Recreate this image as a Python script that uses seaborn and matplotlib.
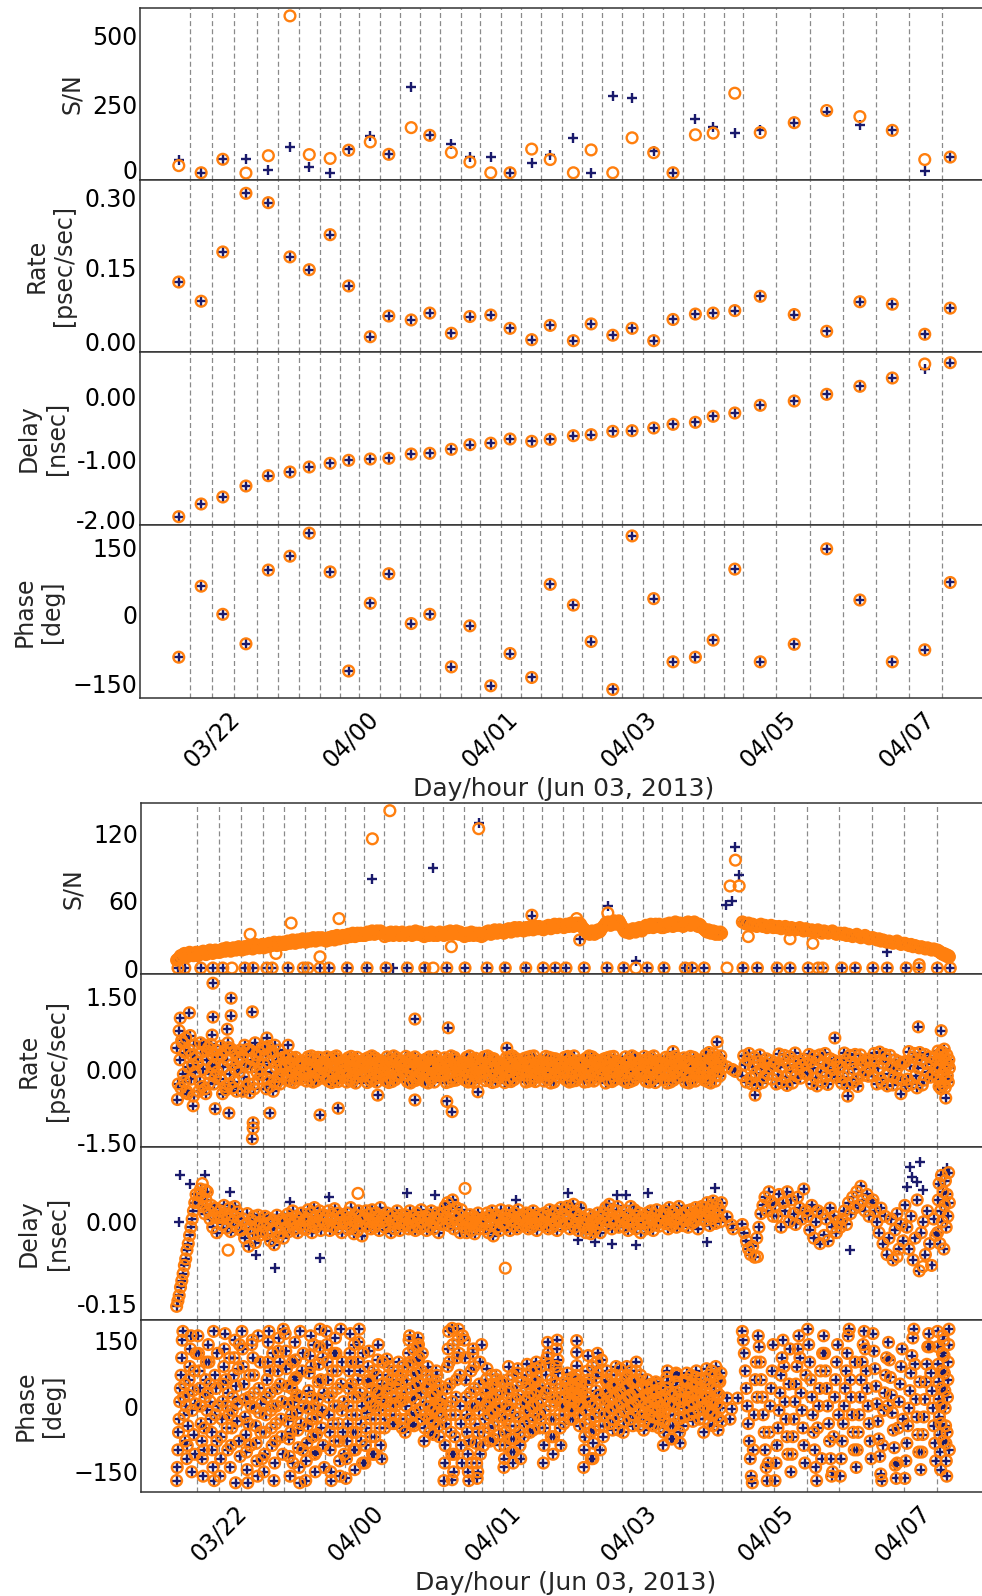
import numpy as np
from itertools import zip_longest
import matplotlib
matplotlib.use("Agg")
import matplotlib.pyplot as plt
from matplotlib.transforms import ScaledTranslation
import seaborn as sns

sns.set_theme(style="white")
plt.rcParams["font.family"] = ["DejaVu Sans"]
plt.rcParams["axes.unicode_minus"] = True

NAVY = "#1a1a6c"
ORANGE = "#ff7f0e"

# ---------------- common ----------------
# scan boundaries (hours since Jun 03 00:00)
SCAN_EDGES = [22.01, 22.30, 22.59, 22.88, 23.16, 23.43, 23.70, 23.96, 24.21, 24.47,
              24.74, 24.99, 25.25, 25.52, 25.77, 26.04, 26.30, 26.56, 26.83, 27.09,
              27.35, 27.61, 27.88, 28.14, 28.40, 28.67, 28.93, 29.18, 29.61, 30.04,
              30.47, 30.90, 31.32, 31.75]
TICK_HOURS = [22.3, 24.1, 25.9, 27.7, 29.5, 31.3]
TICK_LABELS = ["03/22", "04/00", "04/01", "04/03", "04/05", "04/07"]
XLABEL = "Day/hour (Jun 03, 2013)"
YLABELS = ["S/N", "Rate\n[psec/sec]", "Delay\n[nsec]", "Phase\n[deg]"]

# ---------------- top group (scan averaged) ----------------
T_HOURS = [21.87, 22.16, 22.44, 22.74, 23.03, 23.31, 23.56, 23.83, 24.07, 24.35,
           24.59, 24.88, 25.12, 25.40, 25.64, 25.91, 26.16, 26.44, 26.68, 26.98,
           27.21, 27.49, 27.74, 28.02, 28.27, 28.56, 28.79, 29.07, 29.40, 29.84,
           30.26, 30.69, 31.11, 31.53, 31.86]
T_SN_PLUS = [48, 2, 51, 51, 11, 94, 22, 2, 88, 137, 69, 312, 138, 106, 58, 58, 2, 37,
             65, 128, 2, 281, 274, 82, 2, 197, 169, 148, 156, 184, 223, 177, 156, 9, 59]
T_SN_CIRC = [28, 2, 51, 1, 64, 572, 68, 54, 84, 114, 69, 166, 138, 76, 41, 2, 2, 88,
             50, 2, 85, 2, 129, 75, 2, 140, 146, 291, 148, 184, 228, 206, 156, 50, 59]
T_RATE = [0.120, 0.081, 0.181, 0.300, 0.281, 0.171, 0.145, 0.216, 0.112, 0.009,
          0.051, 0.043, 0.057, 0.016, 0.050, 0.053, 0.026, 0.003, 0.032, 0.001,
          0.035, 0.012, 0.026, 0.001, 0.044, 0.055, 0.057, 0.062, 0.091, 0.054,
          0.020, 0.080, 0.075, 0.014, 0.067]
T_DELAY_PLUS = [-1.920, -1.717, -1.605, -1.429, -1.264, -1.205, -1.125, -1.066, -1.018,
                -0.997, -0.986, -0.917, -0.906, -0.842, -0.768, -0.744, -0.677, -0.714,
                -0.682, -0.624, -0.608, -0.554, -0.544, -0.501, -0.442, -0.410, -0.314,
                -0.261, -0.138, -0.069, 0.038, 0.166, 0.299, 0.448, 0.544]
T_DELAY_CIRC = [-1.920, -1.717, -1.605, -1.429, -1.264, -1.205, -1.125, -1.066, -1.018,
                -0.997, -0.986, -0.917, -0.906, -0.842, -0.768, -0.744, -0.677, -0.714,
                -0.682, -0.624, -0.608, -0.554, -0.544, -0.501, -0.442, -0.410, -0.314,
                -0.261, -0.138, -0.069, 0.038, 0.166, 0.299, 0.523, 0.544]
T_PHASE = [-93, 61, 0, -64, 96, 126, 176, 92, -123, 24, 88, -20, 0, -114, -25, -155,
           -85, -137, 65, 20, -59, -163, 170, 34, -103, -93, -56, 98, -103, -65, 142,
           31, -103, -77, 69]

# ---------------- bottom group (per-accumulation) ----------------
B_START, B_END = 21.73, 31.93
# values per scan (35 scans, scan 27 has no regular data)
SN_BANDS = [
    [7, 8, 9, 11, 10, 12, 13, 11, 10, 12, 14, 13, 12, 11, 13, 14],
    [11, 12, 14, 13, 15, 14, 12, 13, 15, 16, 14, 13, 15, 16, 15, 14],
    [14, 15, 17, 16, 15, 18, 17, 16, 15, 17, 18, 17, 16, 18, 19, 17],
    [16, 18, 19, 17, 18, 20, 19, 18, 17, 19, 21, 20, 19, 18, 20, 21],
    [18, 20, 21, 19, 22, 21, 20, 22, 23, 21, 20, 22, 23, 22, 21, 23],
    [21, 22, 24, 23, 22, 24, 25, 23, 22, 24, 25, 24, 23, 25, 26, 24],
    [23, 24, 26, 25, 24, 26, 27, 25, 24, 26, 27, 26, 25, 27, 26, 25],
    [24, 26, 27, 25, 27, 28, 26, 25, 27, 29, 28, 26, 27, 28, 29, 27],
    [27, 28, 30, 29, 28, 30, 31, 29, 28, 30, 31, 30, 29, 31, 30, 29],
    [29, 30, 32, 31, 30, 32, 33, 31, 30, 32, 33, 32, 31, 33, 32, 31],
    [28, 30, 31, 29, 31, 32, 30, 29, 31, 32, 31, 30, 29, 31, 32, 30],
    [29, 30, 31, 30, 32, 31, 29, 30, 32, 33, 31, 30, 31, 32, 30, 29],
    [28, 29, 31, 30, 29, 31, 32, 30, 29, 31, 30, 29, 31, 32, 31, 30],
    [29, 31, 32, 30, 31, 33, 32, 30, 31, 32, 33, 31, 30, 32, 31, 30],
    [28, 29, 31, 30, 29, 30, 32, 31, 29, 30, 31, 30, 29, 31, 30, 28],
    [29, 31, 32, 31, 33, 32, 30, 31, 33, 34, 32, 31, 33, 34, 33, 32],
    [31, 33, 34, 33, 35, 34, 32, 33, 35, 36, 34, 33, 35, 36, 35, 34],
    [33, 34, 36, 35, 34, 36, 37, 35, 34, 36, 37, 36, 35, 37, 36, 35],
    [34, 36, 37, 36, 38, 37, 35, 36, 38, 39, 37, 36, 38, 39, 38, 37],
    [36, 37, 39, 38, 37, 39, 40, 38, 37, 39, 40, 39, 38, 40, 39, 37],
    [35, 34, 33, 31, 32, 30, 31, 33, 32, 30, 31, 33, 34, 32, 33, 35],
    [37, 38, 40, 39, 41, 40, 38, 39, 41, 42, 40, 39, 41, 42, 40, 38],
    [35, 33, 32, 34, 33, 31, 32, 34, 35, 33, 32, 34, 35, 36, 34, 33],
    [35, 36, 38, 37, 36, 38, 39, 37, 36, 38, 39, 38, 37, 39, 38, 36],
    [36, 38, 39, 37, 38, 40, 39, 38, 37, 39, 41, 40, 38, 39, 40, 39],
    [37, 38, 40, 39, 41, 40, 38, 39, 40, 41, 39, 38, 37, 39, 38, 36],
    [35, 34, 33, 32, 34, 33, 31, 32, 33, 31, 30, 32, 31, 30, 32, 31],
    [],
    [41, 40, 39, 40, 38, 39, 38, 37, 38, 39, 37, 38, 36, 37, 38, 36],
    [37, 36, 37, 35, 36, 37, 35, 34, 36, 35, 34, 35, 36, 34, 33, 35],
    [34, 33, 34, 32, 33, 34, 32, 31, 33, 32, 31, 32, 33, 31, 30, 31],
    [31, 30, 31, 29, 30, 29, 28, 29, 30, 28, 27, 28, 29, 27, 26, 27],
    [27, 26, 25, 26, 24, 25, 24, 23, 24, 23, 22, 23, 24, 22, 21, 22],
    [22, 21, 20, 21, 19, 20, 19, 18, 19, 18, 17, 18, 17, 16, 17, 16],
    [16, 15, 15, 14, 14, 13, 13, 12, 13, 12, 11, 12, 11, 10, 11, 10],
]
# rate in units of 0.01 psec/sec
RATE_BANDS = [
    [45, -30, 20, 60, -10, 35, -45, 5, 70, -20, 30, 10, -55, 50, -5, 25],
    [15, -25, 35, 0, -40, 20, 45, -10, 5, 30, -30, 10, -15, 40, -5, 25],
    [-20, 30, 5, -35, 20, 45, -10, 10, -25, 35, 0, -45, 15, 25, -5, 40],
    [25, -15, 10, 40, -30, 5, 20, -40, 30, -5, 15, -20, 35, 0, -10, 45],
    [10, 30, -20, 15, -5, 35, -25, 5, 20, -15, 40, -30, 10, 0, -10, 25],
    [5, -12, 15, -5, 10, 22, -18, 0, 12, -8, 6, -20, 18, -3, 10, -10],
    [-10, 12, 0, 20, -15, 6, -3, 15, -12, 9, -6, 24, 3, -18, 14, 0],
    [8, -15, 18, -5, 12, -10, 2, 22, -8, 14, -18, 5, 10, -3, 16, -12],
    [-3, 14, -12, 6, 20, -9, 3, -16, 11, 0, 17, -6, 9, -14, 5, 12],
    [10, -6, 16, -14, 3, 20, -9, 8, -3, 13, -16, 6, 18, -11, 0, 14],
    [-8, 12, 3, -16, 16, -5, 8, 18, -13, 1, 13, -10, 5, 17, -3, 10],
    [13, -12, 6, 18, -6, 0, 14, -16, 10, -3, 20, -13, 3, 12, -8, 16],
    [0, 16, -10, 8, -16, 13, 3, -6, 18, -13, 10, 1, -12, 15, 6, -5],
    [-12, 6, 16, -3, 12, -16, 5, 20, -8, 10, 0, -14, 14, 3, -10, 13],
    [14, -5, 10, -13, 3, 18, -10, 6, -16, 12, 0, 16, -6, 8, -14, 5],
    [-6, 12, 0, 16, -13, 8, -3, 18, -10, 3, 14, -16, 10, -5, 13, 1],
    [5, -10, 16, -3, 12, -14, 8, 0, 18, -8, 13, -12, 3, 15, -5, 10],
    [-3, 13, -12, 6, 16, -6, 10, -14, 3, 14, -10, 8, 0, 17, -13, 5],
    [10, -8, 14, 0, -13, 12, 5, -10, 16, -3, 8, -16, 13, 2, -6, 15],
    [-5, 10, 16, -12, 3, 14, -8, 6, -14, 13, 0, 18, -10, 8, -3, 12],
    [13, -3, 6, -13, 16, 0, -10, 10, 3, -16, 14, -6, 8, 18, -12, 1],
    [-10, 14, 3, 12, -6, 18, -13, 0, 10, -3, 16, -14, 6, 13, -8, 4],
    [6, -13, 13, -5, 16, 3, -10, 12, -16, 8, 0, 14, -6, 10, -12, 18],
    [-6, 10, -14, 16, 3, -8, 13, 0, -12, 18, 6, -3, 14, -10, 8, 12],
    [12, -3, 8, -13, 14, 5, -10, 16, -5, 10, -16, 3, 18, -8, 13, 0],
    [0, 16, -10, 8, -14, 13, 3, -6, 18, -12, 10, -3, 14, 5, -16, 20],
    [-8, 13, 5, -16, 10, 20, -5, 14, -12, 6, 24, -3, 16, -13, 28, 12],
    [],
    [-13, 10, 20, -18, 6, -8, 16, 0, -16, 13, 22, -10, 3, 18, -20, 8],
    [14, -12, 5, 20, -16, 10, -5, 18, -13, 3, 16, -18, 8, 21, -8, 12],
    [-10, 16, 3, -18, 20, -5, 12, -14, 8, 22, -12, 0, 18, -16, 13, 5],
    [6, -16, 20, -8, 14, 0, -20, 22, 10, -12, 16, -5, 21, -14, 3, 18],
    [-13, 18, 3, -20, 13, 22, -10, 6, -16, 20, 0, -18, 16, 10, -22, 14],
    [16, -20, 8, 25, -13, 3, 20, -22, 12, -6, 26, -16, 14, -10, 22, 0],
    [-16, 22, 6, -25, 18, -8, 26, 0, -20, 14, 30, -13, 10, -26, 20, 3],
]
# further rate accumulations per scan (interleaved with the ones above)
RATE_BANDS_2 = [
    [-62, 80, -38, 55, -25, 65, -50, 40],
    [-45, 55, -35, 50, -50, 38, -28, 52],
    [48, -50, 38, -42, 55, -30, 42, -38],
    [-45, 50, -35, 42, -48, 38, -30, 55],
    [42, -40, 48, -35, 38, -45, 50, -28],
    [24, -22, 27, -25, 20, -27, 25, -20],
    [-24, 26, -21, 28, -26, 22, -23, 25],
    [26, -24, 21, -27, 25, -22, 28, -25],
    [-26, 24, -22, 27, -24, 21, -28, 25],
    [22, -27, 25, -23, 28, -21, 24, -26],
    [-23, 26, -27, 22, -25, 28, -21, 24],
    [27, -25, 23, -28, 21, -24, 26, -22],
    [-25, 22, -28, 26, -21, 24, -26, 27],
    [24, -27, 21, -25, 28, -23, 25, -22],
    [-22, 25, -26, 28, -24, 21, -27, 23],
    [26, -23, 28, -21, 24, -27, 22, -25],
    [-27, 24, -22, 26, -25, 28, -21, 23],
    [23, -26, 25, -24, 27, -22, 28, -25],
    [-24, 27, -21, 25, -28, 23, -26, 22],
    [25, -22, 27, -26, 21, -24, 28, -23],
    [-26, 23, -25, 28, -22, 26, -24, 21],
    [22, -28, 24, -23, 26, -25, 27, -21],
    [-23, 26, -27, 21, -25, 28, -22, 24],
    [27, -24, 22, -26, 25, -21, 28, -27],
    [-21, 25, -28, 23, -26, 24, -22, 27],
    [24, -26, 21, -28, 27, -23, 25, -24],
    [-22, 30, -25, 35, -28, 26, 32, -24],
    [],
    [28, -26, 33, -30, 25, -32, 30, -27],
    [-30, 32, -27, 29, -33, 26, -28, 34],
    [31, -29, 27, -34, 30, -26, 33, -31],
    [-28, 34, -32, 29, -27, 31, -35, 30],
    [33, -30, 36, -28, 31, -34, 29, -32],
    [-34, 37, -30, 33, -38, 35, -32, 31],
    [38, -35, 33, -40, 36, -32, 42, -37],
]
# delay in units of 0.001 nsec
DELAY_BANDS = [
    [-155, -145, -135, -120, -108, -95, -80, -68, -52, -40, -25, -10, 5, 20, 35, 50],
    [35, 50, 60, 45, 28, 15, 40, 55, 20, 5, 30, -10, 12, 25, -20, 8],
    [20, 8, -5, 30, 15, -12, 5, 25, -18, 12, 0, 28, -8, 18, 6, -15],
    [-15, 5, -30, -5, 15, -45, -12, 3, -22, 10, -38, -8, 12, -25, 0, -18],
    [-8, 10, -22, -3, 6, -35, -15, 3, -42, -12, 12, -28, 0, -20, 5, -30],
    [3, -10, 14, -18, 6, -4, 20, -14, 0, 10, -20, 5, -7, 16, -12, 2],
    [-14, 6, 22, -7, 16, -20, 0, 26, -10, 10, -3, 20, -16, 3, 13, -5],
    [10, -7, 20, -16, 3, 13, -10, 24, 0, -13, 16, -3, 6, -20, 12, 1],
    [-3, 16, -14, 6, 26, -10, 3, -22, 13, 0, -16, 20, -7, 10, -26, 5],
    [6, 20, -7, 13, 0, -13, 22, 3, -10, 16, -3, 10, -16, 26, 0, 8],
    [-10, 3, 16, -7, 10, -20, 0, 13, -13, 6, 20, -3, -16, 12, 3, -8],
    [13, -3, 6, -13, 20, 0, -10, 10, 3, -16, 16, -7, 8, -12, 22, 1],
    [-7, 10, -16, 3, 13, -10, 20, 0, -13, 6, -3, 16, -20, 5, 12, -5],
    [16, 28, 6, 35, -7, 20, 0, 40, -13, 10, 26, -3, 13, -20, 22, 3],
    [-10, 3, -20, 6, -3, 13, -16, 0, 10, -22, 5, -7, 16, -13, 2, -5],
    [6, -13, 0, 16, -20, 10, -7, 20, -26, 3, 13, -10, 8, -16, 22, -3],
    [-3, 13, -10, 6, 20, -16, 3, 10, -7, 16, 0, -13, 22, 5, -8, 12],
    [10, -7, 16, 0, -13, 13, 6, -10, 20, -3, 8, -16, 14, 3, -5, 12],
    [0, 16, -7, 10, -13, 22, 3, -10, 13, -3, 20, -16, 6, 0, 26, -8],
    [13, 22, -3, 28, 6, -13, 20, 0, 32, -10, 16, 3, -16, 10, 26, -5],
    [-7, 6, -20, 3, -13, 13, -22, 0, 10, -16, 5, -10, 16, -3, -20, 8],
    [16, 3, 26, -7, 13, 32, 0, -13, 22, 6, -3, 20, 28, -10, 10, 1],
    [6, -10, 20, 0, -16, 13, 28, -7, 3, 22, -13, 10, -3, 16, -20, 5],
    [-3, 10, -13, 16, 0, -10, 20, 6, -16, 13, -5, 22, 3, -8, 12, 0],
    [10, 20, -3, 13, -13, 26, 3, -7, 16, 0, 22, -10, 6, 28, -3, 13],
    [-7, 13, 3, 20, -10, 6, 22, -3, 16, 0, 26, 10, -13, 20, 5, 28],
    [13, 26, 3, 35, 16, -7, 28, 6, 38, 20, -3, 32, 10, 22, 0, 35],
    [],
    [-5, -20, -35, -50, -60, -45, -65, -30, -10, 15, 30, 45, 20, 55, 35, 10],
    [30, 10, 50, -10, 35, 20, 55, 0, 40, 15, -5, 45, 25, 5, 60, 20],
    [10, -15, 30, -30, 0, 20, -40, 15, -25, 5, -35, 25, -10, 10, -20, 0],
    [-10, 5, 20, -5, 35, 15, 45, 25, 55, 30, 65, 40, 20, 50, 10, 35],
    [40, 20, 0, -20, 25, -40, 10, -60, -30, 5, -70, -15, 15, -50, -5, -35],
    [30, -10, -50, 10, -70, -30, 40, -90, -20, 0, -60, 20, -40, -80, 5, -25],
    [-20, 40, 70, -40, 20, 85, 0, 55, -50, 30, 75, -10, 50, 10, 90, 35],
]
# phase in degrees (first half of each scan)
PHASE_BANDS = [
    [-170, -140, -100, -60, -30, 10, 40, 70, 110, 150, 170, 20, -20, 50, -80, 0],
    [160, 120, 80, 40, 0, -40, -80, -120, -160, -100, -50, 20, 60, 100, -10, 30],
    [-160, -120, -70, -30, 10, 50, 90, 130, 165, 60, 0, -50, -100, 30, -20, 110],
    [170, 130, 90, 50, 15, -25, -65, -105, -145, -175, -40, 20, 70, -90, 0, 140],
    [-150, -110, -60, -20, 20, 60, 100, 145, 170, 80, 30, -10, -50, -90, 120, 0],
    [165, 125, 85, 45, 5, -35, -75, -115, -160, -60, -20, 40, 100, -130, 10, 60],
    [-170, -125, -85, -45, -5, 35, 75, 115, 160, 90, 20, -30, -70, 140, 0, -110],
    [170, 140, 100, 60, 20, -20, -60, -100, -150, -170, 30, 80, -40, 120, 0, -80],
    [-165, -120, -80, -40, 0, 40, 80, 120, 165, 100, 50, -20, -60, 20, -100, 140],
    [-130, -90, -50, -15, 20, 55, 90, 125, 60, 10, -30, -70, 40, -110, 0, 80],
    [-50, -30, -10, 10, 30, 50, 70, 90, 40, 0, -20, 60, 20, -40, 80, 5],
    [-60, -30, 0, 30, 60, 90, 120, 150, 160, 100, 40, -20, 20, 70, -40, 130],
    [-80, -50, -20, 10, 40, 70, 90, 50, 0, -30, -60, 20, 60, -10, 30, -40],
    [-170, -130, -90, -40, 0, 40, 90, 130, 170, 100, 50, -20, -60, -110, 10, 140],
    [150, 110, 60, 20, -20, -60, -110, -150, -170, -80, -30, 30, 80, -130, 0, 120],
    [-90, -60, -30, 0, 30, 60, 85, 40, 10, -20, -50, -80, 20, 70, -10, 50],
    [-140, -120, -90, -60, -30, 0, 30, 60, 90, 40, -10, -45, -75, -105, 15, 70],
    [-70, -40, -15, 10, 40, 70, 95, 50, 20, -10, -35, -60, 30, 80, 0, 60],
    [-130, -90, -50, -10, 30, 70, 110, 145, 120, 95, 40, 0, -30, -70, 60, 20],
    [-40, -20, 0, 20, 40, 60, 75, 50, 30, 10, -10, -30, 15, 45, -5, 65],
    [-140, -100, -70, -40, -10, 20, 50, 80, 115, 60, 10, -30, -60, -120, 0, 90],
    [-70, -45, -20, 5, 30, 55, 80, 60, 35, 10, -15, -40, 20, 70, -5, 45],
    [-60, -35, -10, 15, 40, 65, 90, 70, 45, 20, -5, -30, 25, 80, 0, 55],
    [-55, -35, -15, 5, 25, 45, 60, 40, 20, 0, -20, -40, 10, 50, -10, 30],
    [-90, -60, -35, -10, 15, 40, 65, 80, 55, 30, 5, -20, -45, -75, 25, 0],
    [-45, -25, -5, 15, 35, 55, 75, 60, 40, 20, 0, -20, 30, 70, 10, 50],
    [-60, -30, 0, 30, 60, 85, 50, 20, -10, -40, 70, 10, 40, -20, 80, 5],
    [],
    [170, 150, 120, 80, 40, 0, -40, -80, -120, -160, -175, -100, -20, 60, 100, 20],
    [-170, -130, -90, -50, -10, 30, 70, 110, 150, 90, 10, -30, -70, -110, 50, 130],
    [175, 140, 100, 60, 20, -20, -60, -100, -140, -170, -50, 0, 40, 80, -120, 120],
    [-160, -120, -80, -40, 0, 40, 80, 120, 160, 175, 60, 20, -20, -60, -100, 100],
    [165, 125, 85, 45, 5, -35, -75, -115, -155, -170, -90, -10, 30, 70, 110, 0],
    [-165, -125, -85, -45, -5, 35, 75, 115, 155, 175, 95, 15, -25, -65, -105, 55],
    [170, 135, 95, 55, 15, -25, -65, -105, -145, -40, 0, 40, 80, 120, 160, -80],
]
# phase in degrees (second half of each scan)
PHASE_BANDS_2 = [
    [-120, -90, -45, 25, 60, 90, 130, 160, -150, -10, 35, -65, 80, -110, 5, 120],
    [140, 100, 50, 10, -30, -60, -100, -140, 170, -170, 70, -20, 40, -80, 120, 0],
    [-140, -90, -50, -10, 20, 70, 110, 150, -175, 45, -35, 5, 85, -80, 140, -115],
    [150, 110, 70, 30, -5, -45, -85, -125, -160, 160, 40, -15, 100, -60, 5, -120],
    [-170, -130, -80, -40, 0, 40, 80, 125, 155, 100, 50, -30, -70, 10, -110, 175],
    [145, 105, 65, 25, -15, -55, -95, -140, -175, 170, -40, 20, 80, -100, 120, 0],
    [-150, -105, -65, -25, 15, 55, 95, 135, 175, 60, -50, -10, 110, -90, 30, -140],
    [155, 120, 80, 40, 0, -40, -80, -125, -160, 175, 50, -10, 100, -60, 10, -110],
    [-145, -100, -60, -20, 20, 60, 100, 145, 175, 80, 30, -40, -80, 0, -130, 120],
    [-110, -70, -30, 0, 35, 70, 105, 140, 30, -10, -50, -90, 15, -120, 50, 100],
    [-40, -20, 0, 20, 40, 60, 80, 100, 50, 10, -30, 70, 30, -50, 90, 15],
    [-45, -15, 15, 45, 75, 105, 135, 155, 140, 110, 50, -10, 30, 80, -30, 120],
    [-65, -35, -5, 25, 55, 80, 70, 35, -15, -45, -70, 5, 45, 0, 15, -25],
    [-150, -110, -70, -20, 20, 60, 110, 150, 175, 120, 70, 0, -40, -90, -130, 160],
    [130, 90, 40, 0, -40, -85, -130, -165, -150, -60, -10, 50, 100, -110, 15, 140],
    [-75, -45, -15, 15, 45, 70, 60, 25, -5, -35, -65, -90, 5, 35, 55, -25],
    [-130, -105, -75, -45, -15, 15, 45, 75, 85, 25, -25, -60, -90, -120, 5, 55],
    [-55, -25, 0, 25, 55, 85, 100, 65, 35, 5, -20, -50, 45, 90, -30, 15],
    [-110, -70, -30, 10, 50, 90, 130, 150, 105, 75, 20, -20, -50, -90, 40, 0],
    [-30, -10, 10, 30, 50, 70, 60, 40, 20, 0, -20, -45, 25, 55, 5, 35],
    [-120, -85, -55, -25, 5, 35, 65, 100, 120, 75, 25, -15, -45, -100, 15, 105],
    [-55, -30, -5, 20, 45, 70, 90, 50, 25, 0, -25, -55, 35, 85, 10, 60],
    [-45, -20, 5, 30, 55, 80, 100, 60, 35, 10, -15, -45, 15, 70, -25, 45],
    [-45, -25, -5, 15, 35, 55, 50, 30, 10, -10, -30, -50, 20, 40, 0, -20],
    [-75, -45, -20, 5, 30, 55, 75, 70, 45, 15, -5, -30, -60, -85, 35, 10],
    [-35, -15, 5, 25, 45, 65, 80, 50, 30, 10, -10, -30, 40, 60, 20, -5],
    [-45, -15, 15, 45, 70, 90, 35, 5, -25, -55, 60, 25, 55, -5, 75, -35],
    [],
    [160, 135, 100, 60, 20, -20, -60, -100, -140, -170, -130, -60, 0, 40, 80, 140],
    [-150, -110, -70, -30, 10, 50, 90, 130, 160, 110, 30, -10, -50, -90, -130, 70],
    [160, 120, 80, 40, 0, -40, -80, -120, -160, -150, -70, 20, 60, 100, 140, -20],
    [-140, -100, -60, -20, 20, 60, 100, 140, 170, 130, 80, 40, 0, -40, -80, -120],
    [145, 105, 65, 25, -15, -55, -95, -135, -165, -130, -50, 10, 50, 90, 130, -30],
    [-145, -105, -65, -25, 15, 55, 95, 135, 165, 135, 75, 35, -5, -45, -85, -125],
    [150, 115, 75, 35, -5, -45, -85, -125, -160, -60, 20, 60, 100, 140, 175, -100],
]

# individual points (hours, values)
SN_ZERO_HOURS = [21.76, 21.85, 22.06, 22.22, 22.35, 22.64, 22.75, 22.93, 23.00, 23.21,
                 23.41, 23.47, 23.63, 23.75, 23.99, 24.25, 24.50, 24.78, 25.01, 25.30,
                 25.54, 25.83, 26.07, 26.34, 26.57, 26.73, 26.87, 27.11, 27.41, 27.63,
                 27.94, 28.16, 28.44, 28.53, 28.69, 29.20, 29.39, 29.65, 29.82, 30.06,
                 30.19, 30.25, 30.50, 30.68, 30.91, 31.10, 31.35, 31.52, 31.76, 31.93]
SN_CIRC_HOURS = [22.47, 25.12, 27.79, 28.99, 22.71, 23.25, 23.88, 24.32, 24.55, 25.72,
                 26.42, 27.42, 27.01, 27.05, 23.63, 25.36, 23.05, 29.27, 29.82, 30.12,
                 31.52, 29.03, 29.10, 29.15]
SN_CIRC_VALS = [0, 0, 0, 0, 30, 40, 44, 115, 140, 124, 47, 49, 44, 25, 10, 19, 13, 28,
                26, 22, 3, 73, 96, 73]
SN_PLUS_HOURS = [24.59, 24.32, 25.12, 25.72, 26.42, 27.42, 27.05, 27.79, 31.10, 28.98,
                 29.06, 29.10, 29.15]
SN_PLUS_VALS = [0, 79, 89, 129, 46, 55, 26, 6, 14, 56, 60, 108, 83]

RATE_OUT_HOURS = [22.22, 22.46, 22.22, 22.46, 22.74, 22.41, 22.21, 21.79, 21.91, 24.88,
                  25.32, 22.93, 23.21, 26.09, 22.25, 22.43, 22.74, 22.75, 22.75, 23.63,
                  23.87, 22.97, 21.96, 24.39, 24.88, 25.30, 25.37, 25.71, 30.41, 31.51,
                  31.81, 31.87, 31.28, 29.36, 30.58, 28.86, 28.28, 28.99, 29.06, 29.10]
RATE_OUT_VALS = [1.78, 1.47, 1.08, 1.11, 1.19, 0.83, 0.71, 1.06, 1.17, 1.04,
                 0.86, 0.65, 0.50, 0.44, -0.81, -0.90, -1.43, -1.10, -1.21, -0.94,
                 -0.80, -0.90, -0.75, -0.53, -0.63, -0.66, -0.87, -0.46, 0.65, 0.88,
                 0.80, -0.59, -0.50, -0.53, -0.55, 0.57, 0.37, 0.05, 0.00, -0.04]

DELAY_OUT_HOURS = [28.99, 29.05, 29.07]
DELAY_OUT_VALS = [0.009, -0.006, -0.013]
DELAY_PLUS_HOURS = [21.79, 21.92, 22.12, 21.77, 23.04, 23.63, 26.21, 24.78, 25.14, 23.75,
                    23.24, 22.45, 22.79, 26.90, 27.54, 27.66, 27.95, 28.83, 27.03, 27.25,
                    27.48, 27.79, 28.73, 30.61, 31.40, 31.53, 31.43, 31.49, 31.36, 31.57,
                    31.89]
DELAY_PLUS_VALS = [0.085, 0.070, 0.085, 0.000, -0.085, -0.066, 0.040, 0.052, 0.049, 0.046,
                   0.037, 0.055, -0.061, 0.052, 0.049, 0.049, 0.052, 0.061, -0.033, -0.037,
                   -0.040, -0.043, -0.037, -0.052, 0.100, 0.110, 0.082, 0.073, 0.064, 0.058,
                   0.098]
DELAY_CIRC_HOURS = [26.07, 22.42, 31.23, 31.57, 29.39, 22.08, 22.12, 25.54, 24.13]
DELAY_CIRC_VALS = [-0.085, -0.052, -0.064, -0.082, -0.064, 0.070, 0.058, 0.061, 0.052]

PHASE_OUT_HOURS = [28.99, 29.05, 29.03, 29.13, 24.51, 27.01, 27.01, 27.01, 25.37, 25.37]
PHASE_OUT_VALS = [18, -7, -30, 18, 107, 149, 122, 92, 177, -168]

# ---------------- figure layout (pixels) ----------------
W, H = 982, 1596
fig = plt.figure(figsize=(W / 100, H / 100), dpi=100)
fig.patch.set_facecolor("white")

FS = 17
TOP_ROWS = [(8, 180), (180, 352), (352, 525), (525, 698)]
BOT_ROWS = [(802.5, 974), (974, 1147), (1147, 1320), (1320, 1492)]


def add_ax(left, right, top, bottom):
    return fig.add_axes([left / W, 1 - bottom / H, (right - left) / W, (bottom - top) / H])


def style_ax(ax, xlim, ylim, yticks, ylabels, ylabel, show_x):
    ax.set_xlim(*xlim)
    ax.set_ylim(*ylim)
    for e in SCAN_EDGES:
        ax.axvline(e, color="#8a8a8a", lw=0.9, ls=(0, (4, 2.5)), zorder=1)
    ax.set_yticks(yticks)
    ax.set_yticklabels(ylabels)
    ax.set_xticks(TICK_HOURS)
    if show_x:
        ax.set_xticklabels(TICK_LABELS, rotation=45, ha="center")
    else:
        ax.set_xticklabels([])
    ax.tick_params(axis="both", direction="in", length=3, width=1, labelsize=FS,
                   colors="#222222", labelcolor="black")
    ax.tick_params(axis="y", pad=2)
    ax.tick_params(axis="x", pad=6)
    ax.set_ylabel(ylabel, fontsize=FS, labelpad=6)
    ax.set_xlabel("")
    for s in ax.spines.values():
        s.set_color("#333333")
        s.set_linewidth(1.1)
    ax.grid(False)
    ax.set_facecolor("white")


def nudge(label, dy_px):
    label.set_transform(label.get_transform() +
                        ScaledTranslation(0, dy_px / 100.0, fig.dpi_scale_trans))


PLUS_S, CIRC_S, LW = 46, 60, 1.7


def pair(ax, xp, yp, xo, yo):
    sns.scatterplot(x=np.asarray(xp, float), y=np.asarray(yp, float), ax=ax, marker="+",
                    s=PLUS_S, color=NAVY, linewidth=LW, zorder=3, legend=False)
    sns.scatterplot(x=np.asarray(xo, float), y=np.asarray(yo, float), ax=ax, marker="o",
                    s=CIRC_S, facecolors="none", edgecolor=ORANGE, linewidth=LW,
                    zorder=4, legend=False)
    coll = ax.collections[-1]
    coll.set_facecolor("none")
    coll.set_edgecolor(ORANGE)


# ---------------- top group ----------------
top_xlim = (21.368, 32.349)
top_specs = [
    (T_SN_PLUS, T_SN_CIRC, (-24.3, 600.6), [0, 250, 500], ["0", "250", "500"]),
    (T_RATE, T_RATE, (-0.022, 0.327), [0.0, 0.15, 0.30], ["0.00", "0.15", "0.30"]),
    (T_DELAY_PLUS, T_DELAY_CIRC, (-2.053, 0.715), [-2, -1, 0], ["-2.00", "-1.00", "0.00"]),
    (T_PHASE, T_PHASE, (-181.5, 193.7), [-150, 0, 150], ["\u2212150", "0", "150"]),
]
top_axes = []
for i, ((t, b), (yp, yo, ylim, yt, yl)) in enumerate(zip(TOP_ROWS, top_specs)):
    ax = add_ax(140, 988, t, b)
    pair(ax, T_HOURS, yp, T_HOURS, yo)
    style_ax(ax, top_xlim, ylim, yt, yl, YLABELS[i], i == 3)
    if i == 3:
        ax.set_xlabel(XLABEL, fontsize=18, labelpad=4)
    top_axes.append(ax)

# keep the close labels at the panel borders apart
nudge(top_axes[0].get_yticklabels()[0], 4)
nudge(top_axes[1].get_yticklabels()[2], -4)
nudge(top_axes[2].get_yticklabels()[0], 2)
nudge(top_axes[3].get_yticklabels()[2], -2)

# ---------------- bottom group ----------------
starts = [B_START] + SCAN_EDGES
ends = SCAN_EDGES + [B_END]


def merge(a, b):
    return [[v for pr in zip_longest(x, y) for v in pr if v is not None]
            for x, y in zip(a, b)]


def expand(bands, scale=1.0):
    xs, ys = [], []
    for t0, t1, vals in zip(starts, ends, bands):
        if not vals:
            continue
        xs.extend(np.linspace(t0 + 0.012, t1 - 0.012, len(vals)))
        ys.extend(np.asarray(vals, float) * scale)
    return xs, ys


bx_sn, by_sn = expand(SN_BANDS)
bx_rt, by_rt = expand(merge(RATE_BANDS, RATE_BANDS_2), 0.01)
bx_dl, by_dl = expand(DELAY_BANDS, 0.001)
bx_ph, by_ph = expand([a + b for a, b in zip(PHASE_BANDS, PHASE_BANDS_2)])

zeros = [0.0] * len(SN_ZERO_HOURS)
bot_specs = [
    (bx_sn + SN_ZERO_HOURS + SN_PLUS_HOURS, by_sn + zeros + SN_PLUS_VALS,
     bx_sn + SN_ZERO_HOURS + SN_CIRC_HOURS, by_sn + zeros + SN_CIRC_VALS,
     (-5.3, 147.3), [0, 60, 120], ["0", "60", "120"]),
    (bx_rt + RATE_OUT_HOURS, by_rt + RATE_OUT_VALS,
     bx_rt + RATE_OUT_HOURS, by_rt + RATE_OUT_VALS,
     (-1.60, 1.97), [-1.5, 0, 1.5], ["-1.50", "0.00", "1.50"]),
    (bx_dl + DELAY_OUT_HOURS + DELAY_PLUS_HOURS, by_dl + DELAY_OUT_VALS + DELAY_PLUS_VALS,
     bx_dl + DELAY_OUT_HOURS + DELAY_CIRC_HOURS, by_dl + DELAY_OUT_VALS + DELAY_CIRC_VALS,
     (-0.180, 0.137), [-0.15, 0.0], ["-0.15", "0.00"]),
    (bx_ph + PHASE_OUT_HOURS, by_ph + PHASE_OUT_VALS,
     bx_ph + PHASE_OUT_HOURS, by_ph + PHASE_OUT_VALS,
     (-196, 196), [-150, 0, 150], ["\u2212150", "0", "150"]),
]
bot_xlim = (21.273, 32.453)
for i, ((t, b), (xp, yp, xo, yo, ylim, yt, yl)) in enumerate(zip(BOT_ROWS, bot_specs)):
    ax = add_ax(141, 990, t, b)
    pair(ax, xp, yp, xo, yo)
    style_ax(ax, bot_xlim, ylim, yt, yl, YLABELS[i], i == 3)
    if i == 3:
        ax.set_xlabel(XLABEL, fontsize=18, labelpad=4)

fig.savefig("out.png", dpi=100, facecolor="white")
